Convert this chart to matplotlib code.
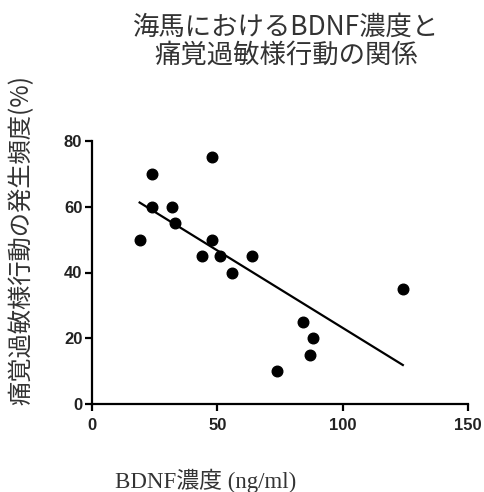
import matplotlib
matplotlib.use("Agg")
import matplotlib.pyplot as plt
import numpy as np

# BDNF concentration (ng/ml) vs. pain-hypersensitivity behaviour frequency (%)
bdnf = [19, 24, 24, 32, 33, 48, 48, 44, 51, 56, 64, 74, 84, 88, 87, 124]
freq = [50, 70, 60, 60, 55, 75, 50, 45, 45, 40, 45, 10, 25, 20, 15, 35]

x_ticks = [0, 50, 100, 150]
y_ticks = [0, 20, 40, 60, 80]

title_lines = ["海馬におけるBDNF濃度と", "痛覚過敏様行動の関係"]
ylabel = "痛覚過敏様行動の発生頻度(%)"
xlabel = "BDNF濃度 (ng/ml)"

cjk = ["Noto Sans CJK JP", "DejaVu Sans"]

fig = plt.figure(figsize=(4.85, 4.92), dpi=100)
ax = fig.add_axes([92 / 485, 1 - 404 / 492, (468 - 92) / 485, (404 - 141) / 492])

ax.scatter(bdnf, freq, s=58, color="black", zorder=3)

# linear regression line over the range of the data
slope, intercept = np.polyfit(bdnf, freq, 1)
xs = np.array([min(bdnf), max(bdnf)])
ax.plot(xs, slope * xs + intercept, color="black", lw=1.6)

ax.set_xlim(0, 150)
ax.set_ylim(0, 80)
ax.set_xticks(x_ticks)
ax.set_yticks(y_ticks)
for side in ("top", "right"):
    ax.spines[side].set_visible(False)
for side in ("left", "bottom"):
    ax.spines[side].set_linewidth(1.6)
ax.tick_params(width=1.6, length=5)
ax.tick_params(axis="x", pad=5)
ax.tick_params(axis="y", pad=2)
for lab in ax.get_xticklabels() + ax.get_yticklabels():
    lab.set_fontfamily("Liberation Sans")
    lab.set_fontweight("bold")
    lab.set_fontsize(12)
    lab.set_color("#222222")

fig.text(286 / 485, 1 - 27 / 492, title_lines[0], ha="center", va="center",
         fontsize=19, family=cjk, color="#333333")
fig.text(286 / 485, 1 - 55 / 492, title_lines[1], ha="center", va="center",
         fontsize=19, family=cjk, color="#333333")

fig.text(22 / 485, 1 - 240 / 492, ylabel, rotation=90, ha="center", va="center",
         fontsize=17.5, family=cjk, color="#333333")

fig.text(206 / 485, 1 - 481 / 492, xlabel, ha="center", va="center",
         fontsize=16.5, family=["Liberation Serif", "Noto Sans CJK JP"], color="#333333")

plt.savefig("out.png", dpi=100)
